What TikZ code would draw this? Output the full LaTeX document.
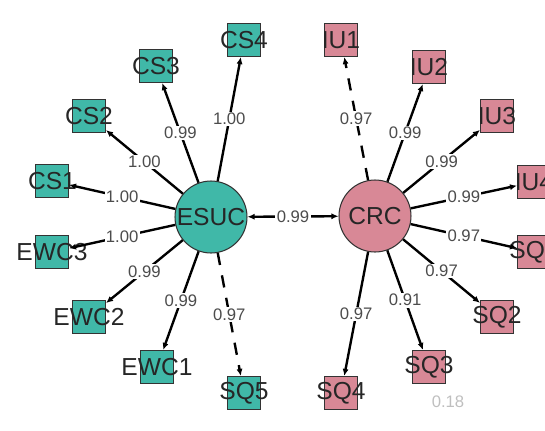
\documentclass[tikz,border=0pt]{standalone}
\usepackage{fontspec}
\setmainfont{Liberation Sans}
\usetikzlibrary{arrows.meta}
\definecolor{esucteal}{RGB}{64,184,168}
\definecolor{crcpink}{RGB}{216,136,150}
\begin{document}
\begin{tikzpicture}[x=0.02cm,y=-0.02cm,
  latent/.style={circle,draw=black!80,line width=0.6pt,minimum size=1.44cm,inner sep=0pt,
    font=\fontsize{14}{14}\selectfont,text=black!85},
  itemname/.style={font=\fontsize{14}{14}\selectfont,text=black!85,inner sep=0pt},
  indbox/.style={rectangle,draw=black!80,line width=0.6pt,minimum size=0.66cm,inner sep=0pt,
    label={[itemname]center:#1}},
  tealbox/.style={indbox=#1,fill=esucteal},
  pinkbox/.style={indbox=#1,fill=crcpink},
  loading/.style={fill=white,inner sep=0.8pt,font=\fontsize{9.5}{10}\selectfont,text=black!70},
  load/.style={line width=1.35pt,-{Latex[length=4pt,width=3.5pt]}},
  fixed/.style={dash pattern=on 7pt off 6pt}]
  \useasboundingbox (0,0) rectangle (545,430);
  \clip (0,0) rectangle (545,430);
  % latent variables
  \node[latent,fill=esucteal] (esuc) at (211,217) {ESUC};
  \node[latent,fill=crcpink] (crc) at (375,216) {CRC};
  % ESUC indicators
  \node[tealbox=CS4] (cs4) at (244,40) {};
  \node[tealbox=CS3] (cs3) at (156,66) {};
  \node[tealbox=CS2] (cs2) at (89,116) {};
  \node[tealbox=CS1] (cs1) at (52,181) {};
  \node[tealbox=EWC3] (ewc3) at (52,252) {};
  \node[tealbox=EWC2] (ewc2) at (89,317) {};
  \node[tealbox=EWC1] (ewc1) at (157,367) {};
  \node[tealbox=SQ5] (sq5) at (244,393) {};
  % CRC indicators
  \node[pinkbox=IU1] (iu1) at (341,40) {};
  \node[pinkbox=IU2] (iu2) at (429,67) {};
  \node[pinkbox=IU3] (iu3) at (497,116) {};
  \node[pinkbox=IU4] (iu4) at (534,182) {};
  \node[pinkbox=SQ1] (sq1) at (534,252) {};
  \node[pinkbox=SQ2] (sq2) at (497,317) {};
  \node[pinkbox=SQ3] (sq3) at (429,367) {};
  \node[pinkbox=SQ4] (sq4) at (341,393) {};
  \node[text=black!25,font=\fontsize{9.5}{10}\selectfont] (res) at (448,402) {0.18};
  % loadings
  \draw[load] (esuc) -- node[loading] {1.00} (cs4);
  \draw[load] (esuc) -- node[loading] {0.99} (cs3);
  \draw[load] (esuc) -- node[loading] {1.00} (cs2);
  \draw[load] (esuc) -- node[loading] {1.00} (cs1);
  \draw[load] (esuc) -- node[loading] {1.00} (ewc3);
  \draw[load] (esuc) -- node[loading] {0.99} (ewc2);
  \draw[load] (esuc) -- node[loading] {0.99} (ewc1);
  \draw[load,fixed] (esuc) -- node[loading] {0.97} (sq5);
  \draw[load,fixed] (crc) -- node[loading] {0.97} (iu1);
  \draw[load] (crc) -- node[loading] {0.99} (iu2);
  \draw[load] (crc) -- node[loading] {0.99} (iu3);
  \draw[load] (crc) -- node[loading] {0.99} (iu4);
  \draw[load] (crc) -- node[loading] {0.97} (sq1);
  \draw[load] (crc) -- node[loading] {0.97} (sq2);
  \draw[load] (crc) -- node[loading] {0.91} (sq3);
  \draw[load] (crc) -- node[loading] {0.97} (sq4);
  % correlation
  \draw[line width=1.35pt,{Latex[length=4pt,width=3.5pt]}-{Latex[length=4pt,width=3.5pt]}]
    (esuc) -- node[loading] {0.99} (crc);
\end{tikzpicture}
\end{document}
